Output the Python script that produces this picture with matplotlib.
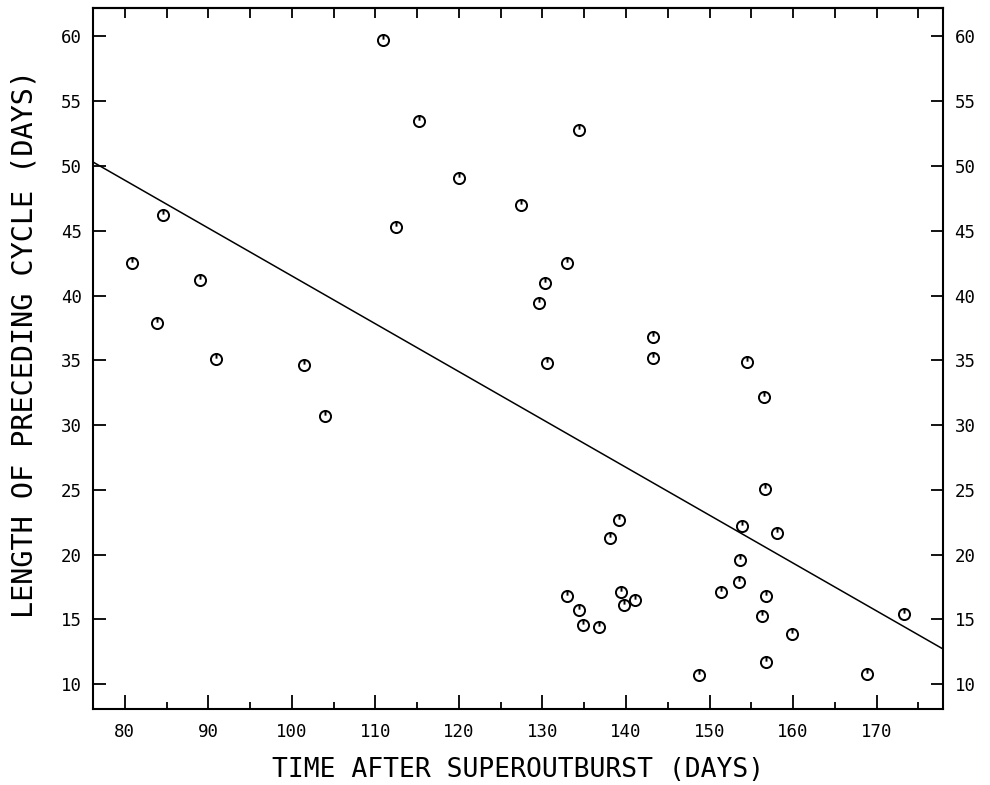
import numpy as np
import matplotlib
matplotlib.use("Agg")
import matplotlib.pyplot as plt
from matplotlib.path import Path
from matplotlib.ticker import MultipleLocator

# time after superoutburst (days) and length of preceding cycle (days)
t_days = [80.9, 83.8, 84.6, 89.0, 90.9, 101.4, 104.0,
          110.9, 112.5, 115.2, 120.0, 127.4, 132.9, 130.3, 129.6, 130.5, 134.4,
          143.2, 143.2, 138.1, 139.2, 132.9, 134.4, 134.9, 136.8, 139.4, 139.8, 141.1,
          154.5, 156.5, 156.6, 153.9, 158.1, 153.7, 153.5, 151.4, 156.8, 156.3,
          159.9, 156.8, 148.7, 168.9, 173.3]
cycle_len = [42.5, 37.9, 46.2, 41.2, 35.1, 34.6, 30.7,
             59.7, 45.3, 53.5, 49.1, 47.0, 42.5, 41.0, 39.4, 34.8, 52.8,
             36.8, 35.2, 21.3, 22.7, 16.8, 15.7, 14.6, 14.4, 17.1, 16.1, 16.5,
             34.9, 32.2, 25.1, 22.2, 21.7, 19.6, 17.9, 17.1, 16.8, 15.3,
             13.9, 11.7, 10.7, 10.8, 15.4]

# least squares line (end points)
fit_x = [76.2, 178.0]
fit_y = [50.3, 12.7]

# circle with little tick inside, like the plotter symbol
circ = Path.unit_circle()
tick = Path([(0, 0.15), (0, 1.0)], [Path.MOVETO, Path.LINETO])
sym = Path.make_compound_path(circ, tick)

mono = "DejaVu Sans Mono"

fig = plt.figure(figsize=(9.9, 7.85), dpi=100)
ax = fig.add_axes([0.094, 0.097, 0.859, 0.893])

ax.plot(fit_x, fit_y, color="black", lw=1.1)
ax.plot(t_days, cycle_len, ls="none", marker=sym, ms=8, mfc="none",
        mec="black", mew=1.4)

ax.set_xlim(76.2, 178.0)
ax.set_ylim(8.1, 62.2)

ax.xaxis.set_major_locator(MultipleLocator(10))
ax.xaxis.set_minor_locator(MultipleLocator(5))
ax.yaxis.set_major_locator(MultipleLocator(5))

ax.tick_params(axis="x", which="major", direction="in", length=10, width=1.3,
               labelsize=12.5, pad=10)
ax.tick_params(axis="x", which="minor", direction="in", length=5, width=1.3)
ax.tick_params(axis="y", which="major", direction="in", length=9, width=1.3,
               labelsize=12.5, left=True, right=True, labelright=True, pad=8)

top = ax.secondary_xaxis("top")
top.xaxis.set_major_locator(MultipleLocator(5))
top.tick_params(direction="in", length=7, width=1.3, labeltop=False)

for lab in ax.get_xticklabels() + ax.get_yticklabels():
    lab.set_family(mono)

for s in ax.spines.values():
    s.set_linewidth(1.5)
top.spines["top"].set_linewidth(1.5)

ax.set_xlabel("TIME AFTER SUPEROUTBURST (DAYS)", family=mono, fontsize=19,
              labelpad=12)
ax.set_ylabel("LENGTH OF PRECEDING CYCLE (DAYS)", family=mono, fontsize=20.5)
ax.yaxis.set_label_coords(-0.064, 0.52)

fig.savefig("out.png", dpi=100)
